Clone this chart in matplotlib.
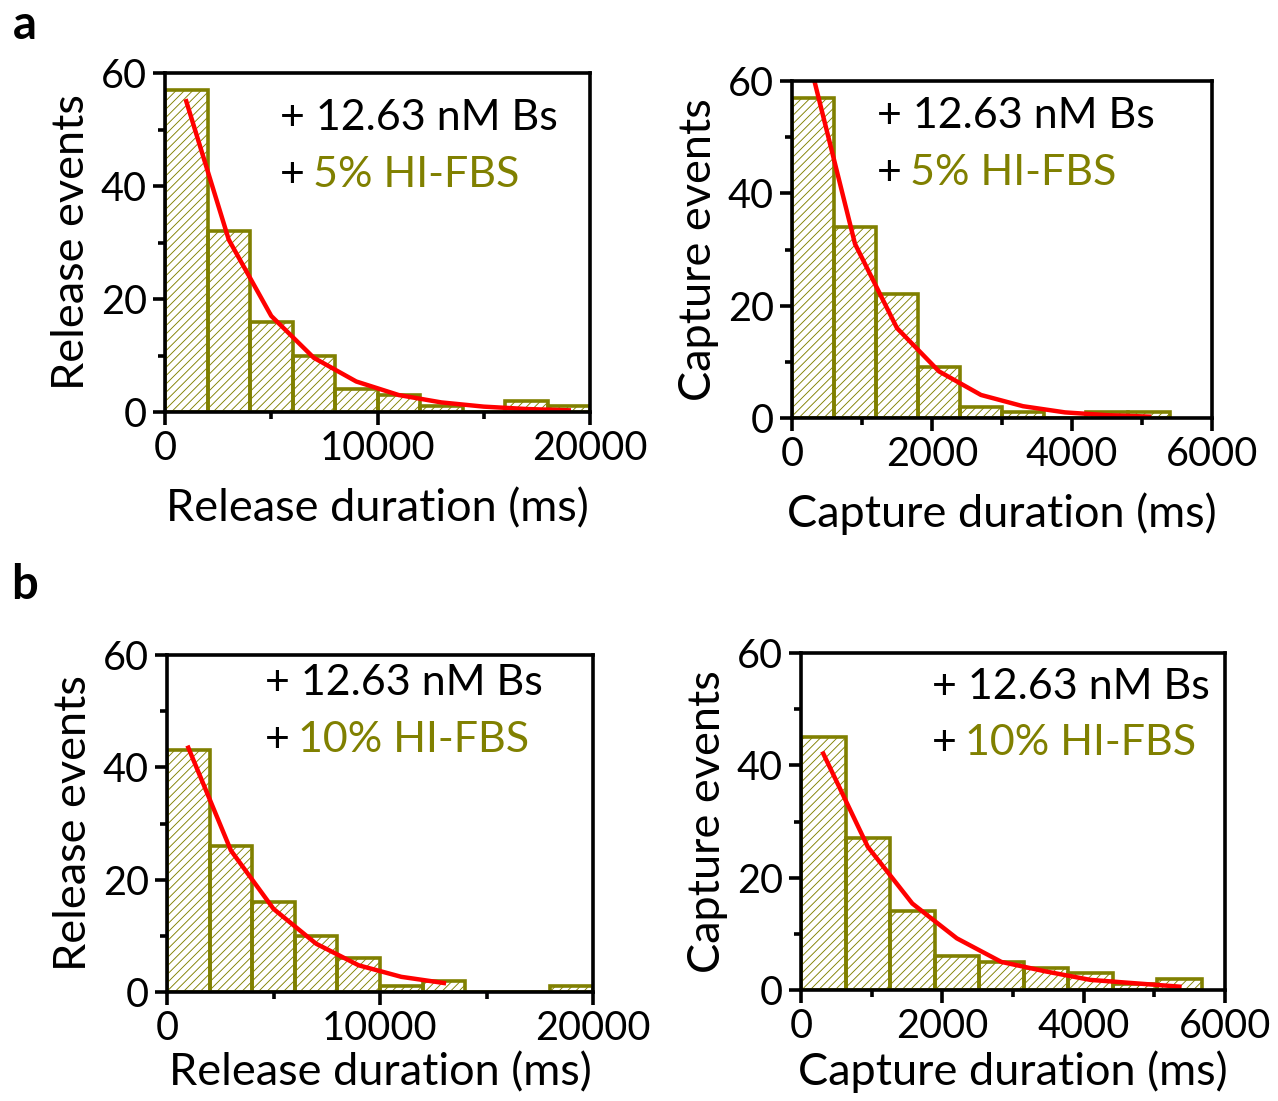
import matplotlib
matplotlib.use('Agg')
import matplotlib.pyplot as plt

plt.rcParams['font.family'] = ['Lato', 'DejaVu Sans']
plt.rcParams['hatch.linewidth'] = 0.65

OLIVE = '#808000'

# histogram counts (bins start at 0) and exponential fit sampled at bin centres
rel_5_counts = [57, 32, 16, 10, 4, 3, 1, 0, 2, 1]
rel_5_fit = [55, 30.5, 17, 9.6, 5.4, 3.0, 1.7, 0.95, 0.53, 0.3]
cap_5_counts = [57, 34, 22, 9, 2, 1, 0, 1, 1]
cap_5_fit = [61, 31, 16, 8.3, 4.1, 2.1, 1.0, 0.5, 0.25]
rel_10_counts = [43, 26, 16, 10, 6, 1, 2, 0, 0, 1]
rel_10_fit = [43.5, 25.2, 14.8, 8.6, 4.75, 2.7, 1.6]
cap_10_counts = [45, 27, 14, 6, 5, 4, 3, 1, 2]
cap_10_fit = [42.1, 25.5, 15.4, 9.2, 5.0, 3.3, 1.8, 1.2, 0.6]

rel_bin = 2000
cap_5_bin = 600
cap_10_bin = 630

W, H = 1278, 1101
fig = plt.figure(figsize=(W / 100, H / 100), dpi=100)


def px_axes(l, r, t, b):
    return fig.add_axes([l / W, 1 - b / H, (r - l) / W, (b - t) / H])


def draw_hist(ax, counts, fit, bw, xmax, xmajor, xlabel, ylabel, serum, txt_x, txt_y1, txt_y2, xpad):
    edges = [i * bw for i in range(len(counts))]
    ax.bar(edges, counts, width=bw, align='edge', facecolor='none',
           edgecolor=OLIVE, hatch='////', linewidth=2.6, zorder=1)
    centers = [(i + 0.5) * bw for i in range(len(fit))]
    ax.plot(centers, fit, color='red', linewidth=3.2, zorder=2)
    ax.set_xlim(0, xmax)
    ax.set_ylim(0, 60)
    ax.set_xticks([i * xmajor for i in range(int(xmax / xmajor) + 1)])
    ax.set_xticks([(i + 0.5) * xmajor for i in range(int(xmax / xmajor))], minor=True)
    ax.set_yticks([0, 20, 40, 60])
    ax.set_yticks([10, 30, 50], minor=True)
    ax.tick_params(which='major', direction='out', length=9, width=2.6,
                   labelsize=28.5, pad=4, top=False, right=False)
    ax.tick_params(which='minor', direction='out', length=5, width=2.6,
                   top=False, right=False)
    for s in ax.spines.values():
        s.set_linewidth(2.6)
        s.set_zorder(3)
    ax.set_xlabel(xlabel, fontsize=32.5, labelpad=xpad)
    ax.set_ylabel(ylabel, fontsize=32.5, labelpad=6)
    ax.text(txt_x, txt_y1, '+ 12.63 nM Bs', transform=ax.transAxes,
            fontsize=31, va='center', ha='left')
    t = ax.text(txt_x, txt_y2, '+ ', transform=ax.transAxes,
                fontsize=31, va='center', ha='left')
    ax.annotate(serum, xy=(0.92, 0), xycoords=t, fontsize=31, color=OLIVE,
                va='bottom', ha='left')


ax1 = px_axes(165, 590, 73, 412)
draw_hist(ax1, rel_5_counts, rel_5_fit, rel_bin, 20000, 10000,
          'Release duration (ms)', 'Release events', '5% HI-FBS', 0.27, 0.867, 0.70, 15)

ax2 = px_axes(792, 1212, 81, 418)
draw_hist(ax2, cap_5_counts, cap_5_fit, cap_5_bin, 6000, 2000,
          'Capture duration (ms)', 'Capture events', '5% HI-FBS', 0.202, 0.896, 0.727, 14)

ax3 = px_axes(167, 593, 655, 992)
draw_hist(ax3, rel_10_counts, rel_10_fit, rel_bin, 20000, 10000,
          'Release duration (ms)', 'Release events', '10% HI-FBS', 0.23, 0.917, 0.748, 4)

ax4 = px_axes(801, 1225, 653, 990)
draw_hist(ax4, cap_10_counts, cap_10_fit, cap_10_bin, 6000, 2000,
          'Capture duration (ms)', 'Capture events', '10% HI-FBS', 0.309, 0.899, 0.733, 4)

fig.text(25 / W, 1 - 25 / H, 'a', fontsize=34, fontweight='bold', ha='center', va='center')
fig.text(25 / W, 1 - 585 / H, 'b', fontsize=34, fontweight='bold', ha='center', va='center')

fig.savefig('out.png', dpi=100)
